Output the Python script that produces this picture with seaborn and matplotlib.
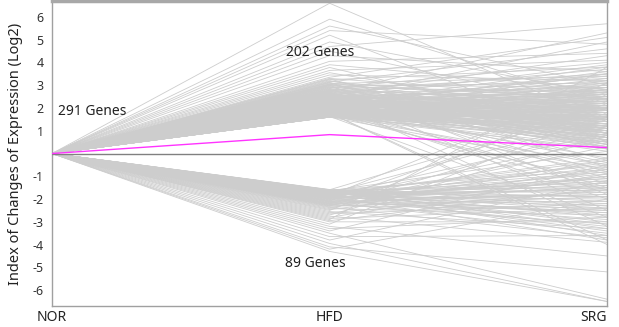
import matplotlib
matplotlib.use("Agg")
import matplotlib.pyplot as plt
import seaborn as sns
import pandas as pd

conditions = ["NOR", "HFD", "SRG"]

# up-regulated genes (202): log2 change at HFD and SRG (NOR is 0)
up_hfd = [
    6.6, 5.9, 5.6, 5.4, 5.2, 4.9, 4.7, 4.5, 4.3, 4.05,
    3.9, 3.78, 3.65, 3.55, 3.45, 3.35, 3.3, 3.27, 3.24, 3.2,
    3.17, 3.14, 3.12, 3.1, 3.07, 3.05, 3.03, 3.01, 3.0, 2.98,
    2.96, 2.94, 2.92, 2.9, 2.88, 2.86, 2.84, 2.82, 2.8, 2.78,
    2.77, 2.75, 2.73, 2.71, 2.7, 2.68, 2.66, 2.65, 2.63, 2.62,
    2.6, 2.59, 2.57, 2.56, 2.55, 2.53, 2.52, 2.51, 2.5, 2.49,
    2.48, 2.47, 2.46, 2.45, 2.44, 2.43, 2.42, 2.41, 2.4, 2.39,
    2.38, 2.37, 2.36, 2.35, 2.34, 2.33, 2.32, 2.31, 2.3, 2.29,
    2.28, 2.27, 2.26, 2.25, 2.24, 2.23, 2.22, 2.21, 2.2, 2.19,
    2.18, 2.17, 2.16, 2.15, 2.14, 2.13, 2.12, 2.11, 2.1, 2.09,
    2.08, 2.07, 2.06, 2.05, 2.04, 2.03, 2.02, 2.01, 2.0, 1.99,
    1.98, 1.97, 1.96, 1.95, 1.95, 1.94, 1.93, 1.92, 1.91, 1.9,
    1.9, 1.89, 1.88, 1.87, 1.86, 1.86, 1.85, 1.84, 1.83, 1.82,
    1.82, 1.81, 1.8, 1.8, 1.79, 1.78, 1.77, 1.77, 1.76, 1.75,
    1.75, 1.74, 1.73, 1.73, 1.72, 1.71, 1.71, 1.7, 1.7, 1.69,
    1.69, 1.68, 1.68, 1.67, 1.67, 1.66, 1.66, 1.65, 1.65, 1.65,
    1.64, 1.64, 1.64, 1.63, 1.63, 1.63, 1.62, 1.62, 1.62, 1.62,
    1.61, 1.61, 1.61, 1.61, 1.6, 1.6, 1.6, 1.6, 1.6, 1.6,
    2.55, 2.35, 2.15, 1.95, 1.85, 1.75, 2.45, 2.25, 2.05, 1.92,
    2.62, 2.42, 2.22, 2.02, 1.88, 1.78, 1.68, 2.32, 2.12, 1.98,
    2.7, 2.5,
]
up_srg = [
    1.4, 2.2, 3.0, 4.8, 0.5, 2.6, 5.7, 1.9, 3.6, 4.4,
    2.8, 0.9, 4.1, 1.5, 3.2, 5.1, 2.4, 0.2, 3.8, 1.1,
    2.0, 4.6, -0.6, 1.7, 3.4, 0.7, 2.9, 1.3, -1.8, 2.5,
    3.1, 1.6, 0.4, 2.7, 4.0, 1.0, 2.2, -0.3, 3.5, 1.8,
    0.8, 2.4, 3.3, 1.2, -2.5, 2.0, 0.6, 2.9, 1.5, 3.7,
    1.9, 0.3, 2.6, 1.1, 4.3, 2.1, -1.1, 1.4, 2.8, 0.9,
    2.3, 1.7, 3.0, 0.5, 1.6, -0.8, 2.5, 1.2, 3.9, 2.0,
    1.0, 2.7, 0.7, 1.8, 3.2, 1.5, -3.2, 2.2, 0.4, 1.3,
    2.6, 1.9, 0.2, 3.4, 1.1, 2.4, 1.6, -0.4, 2.9, 0.8,
    1.5, 3.1, 2.0, 0.6, 1.7, 2.3, -1.5, 1.2, 2.8, 0.9,
    2.1, 1.4, 3.6, 0.3, 1.9, 2.5, 1.0, -2.0, 1.6, 2.7,
    0.7, 2.2, 1.3, 3.0, 1.8, -0.2, 2.4, 0.9, 1.5, 3.3,
    1.1, 2.6, 0.5, 1.9, -0.9, 2.1, 1.4, 2.8, 0.8, 1.6,
    2.3, 0.4, 1.7, 3.5, 1.2, -3.8, 2.0, 1.0, 2.5, 0.6,
    1.8, 2.9, 0.1, 1.5, 2.2, 1.1, -1.3, 2.7, 0.9, 1.4,
    2.4, 1.0, 3.1, 0.7, 1.7, 2.0, -0.5, 1.3, 2.6, 0.3,
    1.6, 2.8, 1.2, 0.5, 2.1, -2.8, 1.9, 0.8, 2.4, 1.5,
    0.2, 2.2, 1.0, 3.2, 1.7, -0.7, 2.5, 1.3, 0.6, 1.9,
    2.1, 0.9, 3.8, 1.4, -1.6, 2.7, 1.1, 0.4, 2.3, 1.8,
    1.2, 4.9, 2.0, 0.7, 1.6, -4.0, 2.9, 1.0, 3.5, 1.5,
    5.3, 2.2,
]

# down-regulated genes (89)
down_hfd = [
    -4.3, -4.2, -4.1, -3.95, -3.8, -3.65, -3.5, -3.4, -3.3, -3.2,
    -3.1, -3.0, -2.95, -2.9, -2.85, -2.8, -2.75, -2.7, -2.65, -2.6,
    -2.55, -2.5, -2.46, -2.42, -2.38, -2.35, -2.32, -2.3, -2.28, -2.26,
    -2.24, -2.22, -2.2, -2.18, -2.16, -2.14, -2.12, -2.1, -2.08, -2.06,
    -2.04, -2.02, -2.0, -1.98, -1.96, -1.95, -1.93, -1.92, -1.9, -1.89,
    -1.88, -1.86, -1.85, -1.84, -1.82, -1.81, -1.8, -1.79, -1.78, -1.77,
    -1.76, -1.75, -1.74, -1.73, -1.72, -1.71, -1.7, -1.69, -1.68, -1.67,
    -1.66, -1.65, -1.64, -1.63, -1.62, -1.61, -1.6, -1.6, -1.59, -1.58,
    -2.0, -1.9, -1.8, -2.1, -1.7, -1.95, -1.85, -2.2, -1.75,
]
down_srg = [
    -6.5, -2.0, -5.2, -6.5, -1.2, -3.6, -6.4, -0.5, -2.8, -4.5,
    1.8, -3.0, -1.5, 3.8, -2.4, -0.9, -3.9, 0.8, -2.2, -1.6,
    -3.3, 2.6, -1.0, -2.7, -0.3, -3.7, -1.9, 1.2, -2.5, -0.7,
    -1.4, -3.1, 0.3, -2.1, -1.7, -3.5, -0.8, -2.6, 2.2, -1.3,
    -2.9, -0.4, -1.8, -3.2, -1.1, 0.6, -2.3, -1.5, -3.8, -0.6,
    -2.0, -1.2, 3.1, -2.7, -0.9, -1.6, -3.4, -0.2, -2.2, -1.4,
    -0.8, -2.5, -1.9, 1.5, -3.0, -1.1, -2.4, -0.5, -1.7, -3.6,
    -1.3, -2.8, 0.1, -1.9, -2.3, -0.7, -3.3, -1.5, 2.0, -2.1,
    -1.0, -2.6, -0.3, -1.8, -3.1, -1.2, 0.9, -2.4, -1.6,
]

# average profile (magenta)
mean_profile = [0, 0.83, 0.26]

yticks = [-6, -5, -4, -3, -2, -1, 1, 2, 3, 4, 5, 6]

rows = []
gid = 0
for h, s in zip(up_hfd + down_hfd, up_srg + down_srg):
    for c, v in zip(conditions, [0, h, s]):
        rows.append({"gene": gid, "condition": c, "value": v})
    gid += 1
df = pd.DataFrame(rows)
mean_df = pd.DataFrame({"condition": conditions, "value": mean_profile})

sns.set_style("white")
plt.rcParams["font.family"] = ["Noto Sans", "DejaVu Sans"]

fig = plt.figure(figsize=(6.19, 3.27), dpi=100)
ax = fig.add_axes([0.084, 0.064, 0.897, 0.933])

sns.lineplot(data=df, x="condition", y="value", units="gene", estimator=None,
             color="#cdcdcd", linewidth=0.6, ax=ax, sort=False)
ax.axhline(0, color="#808080", linewidth=1.0, zorder=3)
sns.lineplot(data=mean_df, x="condition", y="value", color="#ff33ff",
             linewidth=1.0, ax=ax, sort=False, zorder=4)

ax.set_xlim(0, 2)
ax.set_ylim(-6.7, 6.7)
ax.set_yticks(yticks)
ax.set_yticklabels([str(t) for t in yticks], fontsize=9, color="#333333")
ax.set_xticks([0, 1, 2])
ax.set_xticklabels(conditions, fontsize=10, color="#222222")
ax.tick_params(axis="y", direction="in", length=3, color="#a0a0a0", pad=6)
ax.tick_params(axis="x", direction="in", length=3, color="#a0a0a0", pad=3)
for lbl, ha in zip(ax.get_xticklabels(), ["center", "center", "right"]):
    lbl.set_ha(ha)
ax.set_xlabel("")
ax.set_ylabel("Index of Changes of Expression (Log2)", fontsize=10.5,
              color="#222222", labelpad=7)

for side in ["left", "right", "bottom"]:
    ax.spines[side].set_color("#a0a0a0")
    ax.spines[side].set_linewidth(1.0)
ax.spines["top"].set_color("#a8a8a8")
ax.spines["top"].set_linewidth(2.5)

ax.text(0.145, 1.84, "291 Genes", fontsize=10, ha="center", va="center", color="#222222")
ax.text(0.966, 4.43, "202 Genes", fontsize=10, ha="center", va="center", color="#222222")
ax.text(0.95, -4.82, "89 Genes", fontsize=10, ha="center", va="center", color="#222222")

fig.savefig("out.png", dpi=100)
